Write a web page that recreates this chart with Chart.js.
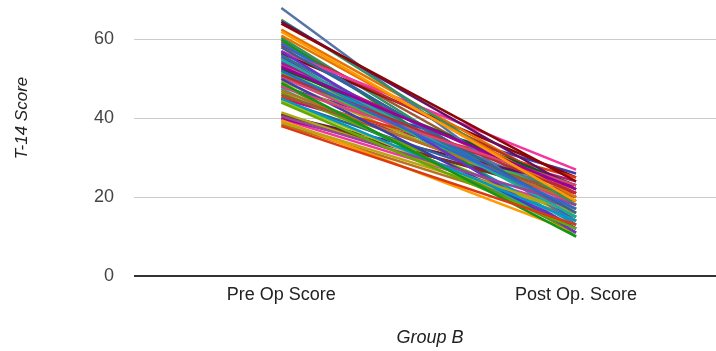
<!DOCTYPE html>
<html lang="en">
<head>
    <meta charset="UTF-8">
    <title>Group B T-14 Score</title>
    <style>
        body {
            margin: 0;
            background: #fff;
            font-family: "Liberation Sans", Arial, sans-serif;
        }
    </style>
</head>
<body>
    <canvas id="scoreChart" width="716" height="351"></canvas>

    <script src="https://cdn.jsdelivr.net/npm/chart.js"></script>
    <script>
        // Chart data
        const categories = ['Pre Op Score', 'Post Op. Score'];
        const yTicks = [0, 20, 40, 60];
        const preOp = [52, 38, 62, 49, 53, 45, 48, 44, 51, 58, 40.5, 55, 41.5, 57, 61, 64, 64.5, 65, 68, 50,
                       47, 51.5, 54, 57, 46, 44.5, 56, 48.5, 39, 52.5, 41, 59, 45.5, 39.5, 60, 40, 54.5, 50.5, 46.5, 58.5,
                       44.5, 53.5, 47.5, 49.5, 55.5, 62.5, 56.5, 40.8, 60.5, 50.8, 48, 38.5, 52, 45, 39.8, 59.5];
        const postOp = [17, 13, 19, 10, 22, 14, 23, 12, 21, 16, 18, 15, 16, 11, 20, 24, 22, 18, 13, 12,
                        19, 17, 21, 27, 20, 14, 15, 11, 16, 23, 20, 14, 25, 11, 10, 21, 13, 18, 15, 22,
                        19, 16, 12, 17, 12, 21, 25, 23, 14, 20, 26, 15, 19, 24, 17, 18];
        const palette = ['#3366cc', '#dc3912', '#ff9900', '#109618', '#990099', '#0099c6', '#dd4477', '#66aa00',
                         '#b82e2e', '#316395', '#994499', '#22aa99', '#aaaa11', '#6633cc', '#e67300', '#8b0707',
                         '#651067', '#329262', '#5574a6', '#3b3eac', '#b77322', '#16d620', '#b91383', '#f4359e',
                         '#9c5935', '#a9c413', '#2a778d', '#668d1c', '#bea413', '#0c5922', '#743411'];

        const datasets = preOp.map((pre, i) => ({
            label: 'Patient ' + (i + 1),
            data: [{ x: 0, y: pre }, { x: 1, y: postOp[i] }],
            borderColor: palette[i % palette.length],
            borderWidth: 2.5,
            pointRadius: 0,
            fill: false
        }));

        // axis titles drawn by hand so they sit where the original puts them
        const axisTitles = {
            id: 'axisTitles',
            afterDraw(chart) {
                const c = chart.ctx;
                c.save();
                c.fillStyle = '#222';
                c.textAlign = 'center';
                c.textBaseline = 'middle';
                c.font = 'italic 18px "Liberation Sans", Arial, sans-serif';
                c.fillText('Group B', 430, 338);
                c.translate(22, 118);
                c.rotate(-Math.PI / 2);
                c.font = 'italic 17px "Liberation Sans", Arial, sans-serif';
                c.fillText('T-14 Score', 0, 0);
                c.restore();
            }
        };

        function noPad(axis) {
            axis.paddingTop = 0;
            axis.paddingBottom = 0;
            axis.paddingLeft = 0;
            axis.paddingRight = 0;
        }

        new Chart(document.getElementById('scoreChart'), {
            type: 'line',
            data: { datasets: datasets },
            plugins: [axisTitles],
            options: {
                responsive: false,
                animation: false,
                layout: { padding: 0 },
                plugins: {
                    legend: { display: false },
                    title: { display: false },
                    tooltip: { enabled: false }
                },
                scales: {
                    x: {
                        type: 'linear',
                        min: -0.5,
                        max: 1.475,
                        afterBuildTicks: axis => { axis.ticks = [{ value: 0 }, { value: 1 }]; },
                        afterFit: axis => { axis.height = 75; noPad(axis); },
                        grid: { display: false, drawTicks: false },
                        border: { display: false },
                        ticks: {
                            padding: 8,
                            color: '#222',
                            font: { size: 18, family: '"Liberation Sans", Arial, sans-serif' },
                            callback: v => categories[v]
                        }
                    },
                    y: {
                        min: 0,
                        max: 70,
                        afterBuildTicks: axis => { axis.ticks = yTicks.map(v => ({ value: v })); },
                        afterFit: axis => { axis.width = 134; noPad(axis); },
                        grid: {
                            drawTicks: false,
                            color: ctx => ctx.tick && ctx.tick.value === 0 ? '#333' : '#ccc',
                            lineWidth: ctx => ctx.tick && ctx.tick.value === 0 ? 2 : 1
                        },
                        border: { display: false },
                        ticks: {
                            padding: 20,
                            color: '#444',
                            font: { size: 18, family: '"Liberation Sans", Arial, sans-serif' }
                        }
                    }
                }
            }
        });
    </script>
</body>
</html>
